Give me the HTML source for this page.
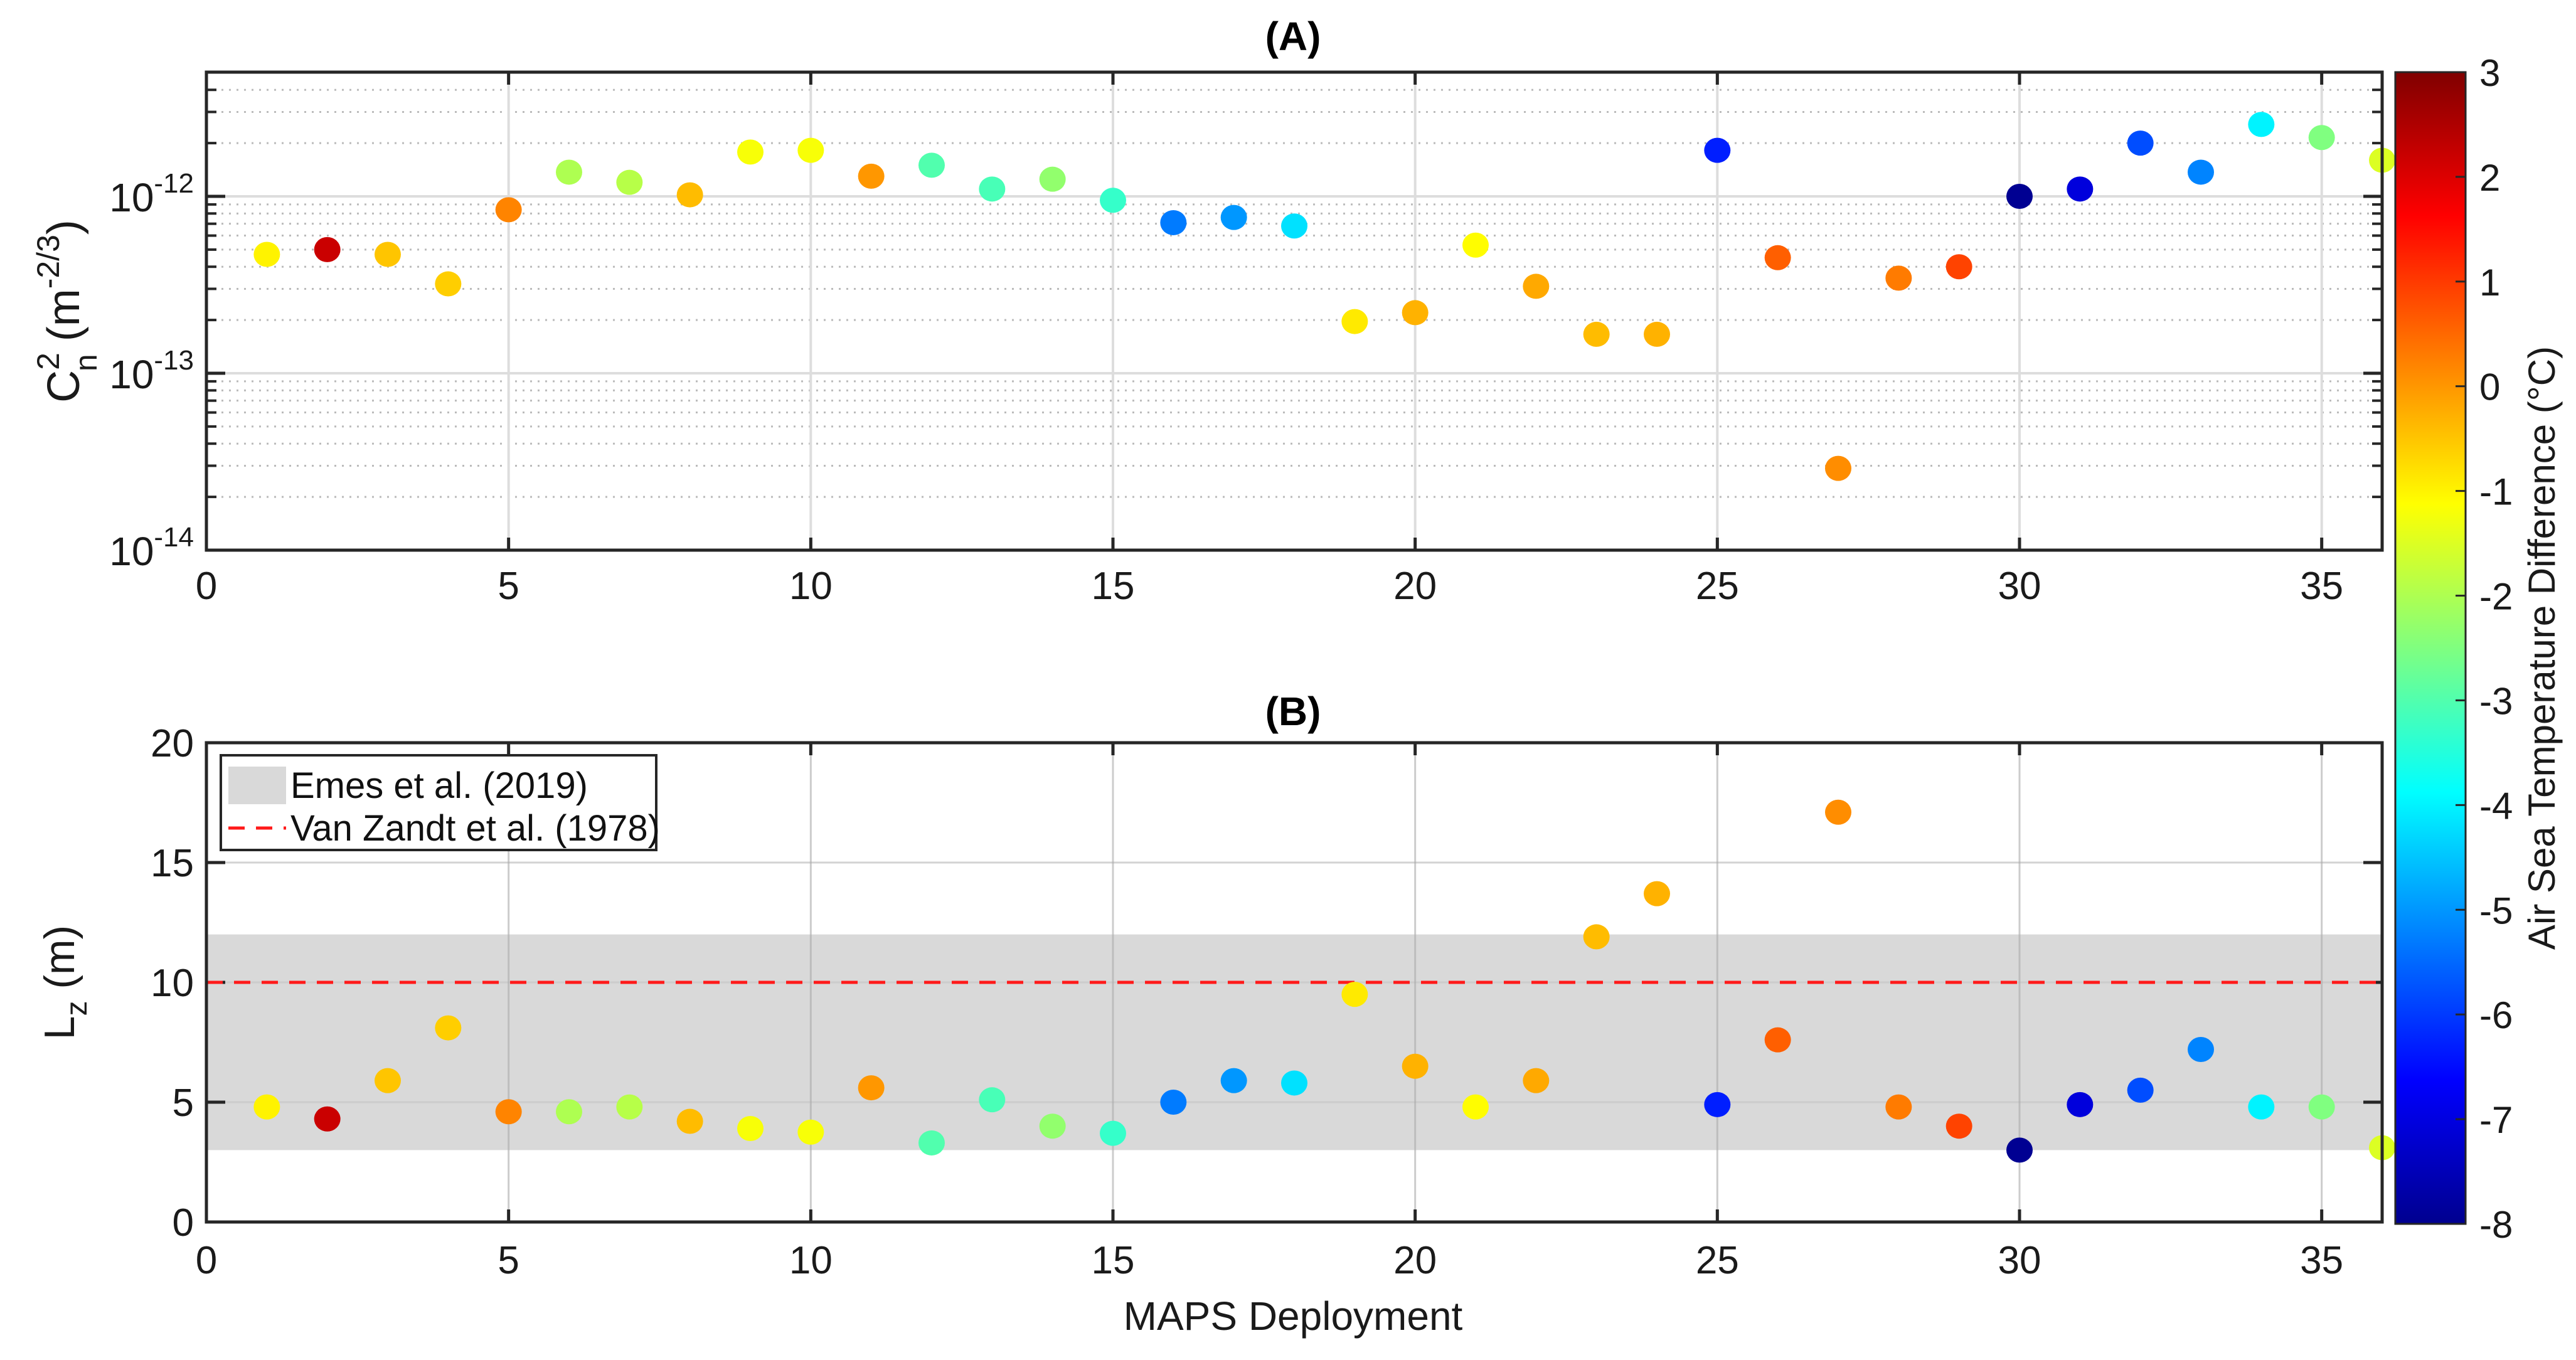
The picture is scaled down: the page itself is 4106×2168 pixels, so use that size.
<!DOCTYPE html>
<html><head><meta charset="utf-8"><style>
html,body{margin:0;padding:0;background:#fff;}
svg{display:block;font-family:"Liberation Sans",sans-serif;}
</style></head><body>
<svg id="chart" width="4106" height="2168" viewBox="0 0 4106 2168" xmlns="http://www.w3.org/2000/svg">
<defs>
<linearGradient id="jetgrad" x1="0" y1="1" x2="0" y2="0">
<stop offset="0" stop-color="#00008f"/><stop offset="0.125" stop-color="#0000ff"/><stop offset="0.375" stop-color="#00ffff"/><stop offset="0.625" stop-color="#ffff00"/><stop offset="0.875" stop-color="#ff0000"/><stop offset="1" stop-color="#800000"/>
</linearGradient>
</defs>
<g id="pA"></g>
<g id="pB"></g>
<g id="cb"></g>
</svg>
<script>
const deployments=[1,2,3,4,5,6,7,8,9,10,11,12,13,14,15,16,17,18,19,20,21,22,23,24,25,26,27,28,29,30,31,32,33,34,35,36];
const cn2Values=[4.7e-13,5.0e-13,4.7e-13,3.2e-13,8.4e-13,1.37e-12,1.2e-12,1.02e-12,1.78e-12,1.82e-12,1.3e-12,1.5e-12,1.1e-12,1.25e-12,0.95e-12,7.1e-13,7.6e-13,6.8e-13,1.96e-13,2.2e-13,5.3e-13,3.1e-13,1.66e-13,1.66e-13,1.82e-12,4.5e-13,2.9e-14,3.45e-13,4.0e-13,1.0e-12,1.1e-12,2.0e-12,1.37e-12,2.55e-12,2.15e-12,1.6e-12];
const lzValues=[4.8,4.3,5.9,8.1,4.6,4.6,4.8,4.2,3.9,3.75,5.6,3.3,5.1,4.0,3.7,5.0,5.9,5.8,9.5,6.5,4.8,5.9,11.9,13.7,4.9,7.6,17.1,4.8,4.0,3.0,4.9,5.5,7.2,4.8,4.8,3.1];
const airSeaDiff=[-1.0,2.2,-0.5,-0.6,0.2,-2.0,-1.9,-0.4,-1.2,-1.2,0.0,-3.0,-3.1,-2.3,-3.3,-5.3,-5.0,-4.2,-0.9,-0.3,-1.1,-0.2,-0.4,-0.3,-6.3,0.6,0.1,0.3,0.9,-7.8,-7.0,-5.8,-5.2,-4.0,-2.5,-1.5];
const xTicks=[0,5,10,15,20,25,30,35];
const lzTicks=[0,5,10,15,20];
const logTicks=[-14,-13,-12];
const cbTicks=[3,2,1,0,-1,-2,-3,-4,-5,-6,-7,-8];
const emesBand=[3,12];
const vanZandt=[10];

const NS="http://www.w3.org/2000/svg";
function mk(parent,tag,attrs,text){const e=document.createElementNS(NS,tag);for(const k in attrs)e.setAttribute(k,attrs[k]);if(text!==undefined)e.textContent=text;parent.appendChild(e);return e;}
const L=329,R=3797;
const xs=v=>L+(R-L)*v/36;
const ATop=115,ABot=877;
const ys=v=>313-(Math.log10(v)+12)*282;
const BTop=1184,BBot=1948;
const yb=v=>BBot-(BBot-BTop)*v/20;
const CMIN=-8,CMAX=3;
const TXT='#1a1a1a';
function jet(t){t=(t-CMIN)/(CMAX-CMIN);const f=x=>Math.max(0,Math.min(1,x));
const r=f(Math.min(4*t-1.5,-4*t+4.5)),g=f(Math.min(4*t-0.5,-4*t+3.5)),b=f(Math.min(4*t+0.5,-4*t+2.5));
return `rgb(${Math.round(r*255)},${Math.round(g*255)},${Math.round(b*255)})`;}

// Panel A
const pA=document.getElementById('pA');
for(let d=-14;d<-11;d++){for(let m=2;m<=9;m++){const v=m*Math.pow(10,d);const y=ys(v);if(y<ATop+2)continue;
const gl=mk(pA,'line',{x1:L,x2:R,y1:y,y2:y,stroke:'#bbb','stroke-width':3,'stroke-dasharray':'3 9'});


mk(pA,'line',{x1:L,x2:L+16,y1:y,y2:y,stroke:'#262626','stroke-width':4});
mk(pA,'line',{x1:R,x2:R-16,y1:y,y2:y,stroke:'#262626','stroke-width':4});}}
logTicks.forEach(d=>{const y=ys(Math.pow(10,d));
const gl=mk(pA,'line',{x1:L,x2:R,y1:y,y2:y,stroke:'#ddd','stroke-width':4});


mk(pA,'line',{x1:L,x2:L+30,y1:y,y2:y,stroke:'#262626','stroke-width':5});
mk(pA,'line',{x1:R,x2:R-30,y1:y,y2:y,stroke:'#262626','stroke-width':5});
const t=mk(pA,'text',{x:L-20,y:y+24,'text-anchor':'end','font-size':64,fill:TXT});


mk(t,'tspan',{},'10');mk(t,'tspan',{dy:-30,'font-size':44},String(d));});
xTicks.forEach(v=>{const x=xs(v);
if(v>0){const gl=mk(pA,'line',{x1:x,x2:x,y1:ATop,y2:ABot,stroke:'#ddd','stroke-width':4});

}
mk(pA,'line',{x1:x,x2:x,y1:ATop,y2:ATop+20,stroke:'#262626','stroke-width':5});
mk(pA,'line',{x1:x,x2:x,y1:ABot,y2:ABot-20,stroke:'#262626','stroke-width':5});
const t=mk(pA,'text',{x:x,y:ABot+78,'text-anchor':'middle','font-size':62,fill:TXT},String(v));

});
deployments.forEach((d,i)=>{const c=mk(pA,'ellipse',{cx:xs(d),cy:ys(cn2Values[i]),rx:21,ry:20,fill:jet(airSeaDiff[i])});

});
{const f=mk(pA,'rect',{x:L,y:ATop,width:R-L,height:ABot-ATop,fill:'none',stroke:'#262626','stroke-width':5});


const t=mk(pA,'text',{x:2061,y:80,'text-anchor':'middle','font-size':64,'font-weight':'bold',fill:'#000'},'(A)');


const yl=mk(pA,'text',{transform:'translate(126,496) rotate(-90)','text-anchor':'middle','font-size':72,fill:TXT});


mk(yl,'tspan',{},'C');mk(yl,'tspan',{dy:-32,'font-size':50},'2');mk(yl,'tspan',{dx:-30,dy:60,'font-size':50},'n');
mk(yl,'tspan',{dy:-28},' (m');mk(yl,'tspan',{dy:-32,'font-size':50},'-2/3');mk(yl,'tspan',{dy:32},')');}

// Panel B
const pB=document.getElementById('pB');
{const b=mk(pB,'rect',{x:L,y:yb(emesBand[1]),width:R-L,height:yb(emesBand[0])-yb(emesBand[1]),fill:'#d9d9d9'});

}
lzTicks.forEach(v=>{const y=yb(v);
if(v>0&&v<20){const gl=mk(pB,'line',{x1:L,x2:R,y1:y,y2:y,stroke:'#c8c8c8','stroke-width':3,'stroke-opacity':0.8});

}
mk(pB,'line',{x1:L,x2:L+30,y1:y,y2:y,stroke:'#262626','stroke-width':5});
mk(pB,'line',{x1:R,x2:R-30,y1:y,y2:y,stroke:'#262626','stroke-width':5});
const t=mk(pB,'text',{x:L-20,y:y+22,'text-anchor':'end','font-size':62,fill:TXT},String(v));

});
xTicks.forEach(v=>{const x=xs(v);
if(v>0){const gl=mk(pB,'line',{x1:x,x2:x,y1:BTop,y2:BBot,stroke:'#aaa','stroke-width':3,'stroke-opacity':0.6});

}
mk(pB,'line',{x1:x,x2:x,y1:BTop,y2:BTop+20,stroke:'#262626','stroke-width':5});
mk(pB,'line',{x1:x,x2:x,y1:BBot,y2:BBot-20,stroke:'#262626','stroke-width':5});
const t=mk(pB,'text',{x:x,y:BBot+82,'text-anchor':'middle','font-size':62,fill:TXT},String(v));

});
vanZandt.forEach(v=>{const l=mk(pB,'line',{x1:L,x2:R,y1:yb(v),y2:yb(v),stroke:'#ff1a1a','stroke-width':5,'stroke-dasharray':'26 18'});

});
deployments.forEach((d,i)=>{const c=mk(pB,'ellipse',{cx:xs(d),cy:yb(lzValues[i]),rx:21,ry:20,fill:jet(airSeaDiff[i])});

});
{const f=mk(pB,'rect',{x:L,y:BTop,width:R-L,height:BBot-BTop,fill:'none',stroke:'#262626','stroke-width':5});


const t=mk(pB,'text',{x:2061,y:1156,'text-anchor':'middle','font-size':64,'font-weight':'bold',fill:'#000'},'(B)');


const yl=mk(pB,'text',{transform:'translate(118,1566) rotate(-90)','text-anchor':'middle','font-size':68,fill:TXT});


mk(yl,'tspan',{},'L');mk(yl,'tspan',{dy:20,'font-size':48},'z');mk(yl,'tspan',{dy:-20},' (m)');
const xl=mk(pB,'text',{x:2061,y:2120,'text-anchor':'middle','font-size':64,fill:TXT},'MAPS Deployment');


const lg=mk(pB,'g',{});


mk(lg,'rect',{x:352,y:1204,width:694,height:151,fill:'#fff',stroke:'#262626','stroke-width':4});
const e1=mk(lg,'rect',{x:364,y:1222,width:92,height:60,fill:'#d9d9d9'});


const t1=mk(lg,'text',{x:463,y:1272,'font-size':58,fill:'#111'},'Emes et al. (2019)');


mk(lg,'line',{x1:364,x2:456,y1:1320,y2:1320,stroke:'#ff1a1a','stroke-width':5,'stroke-dasharray':'26 18'});
const t2=mk(lg,'text',{x:463,y:1340,'font-size':58,fill:'#111'},'Van Zandt et al. (1978)');

}

// Colorbar
const cb=document.getElementById('cb');
const CL=3818,CR=3930,CT=115,CB=1951;
const yc=v=>CB-(CB-CT)*(v-CMIN)/(CMAX-CMIN);
{const r=mk(cb,'rect',{x:CL,y:CT,width:CR-CL,height:CB-CT,fill:'url(#jetgrad)',stroke:'#262626','stroke-width':3});

}
cbTicks.forEach(v=>{const y=yc(v);
if(v>CMIN&&v<CMAX)mk(cb,'line',{x1:CR-16,x2:CR,y1:y,y2:y,stroke:'#262626','stroke-width':3});
const t=mk(cb,'text',{x:3952,y:y+22,'text-anchor':'start','font-size':60,fill:TXT},String(v));

});
{const t=mk(cb,'text',{transform:'translate(4072,1033) rotate(-90)','text-anchor':'middle','font-size':60,fill:TXT},'Air Sea Temperature Difference (°C)');

}
</script>
</body></html>
